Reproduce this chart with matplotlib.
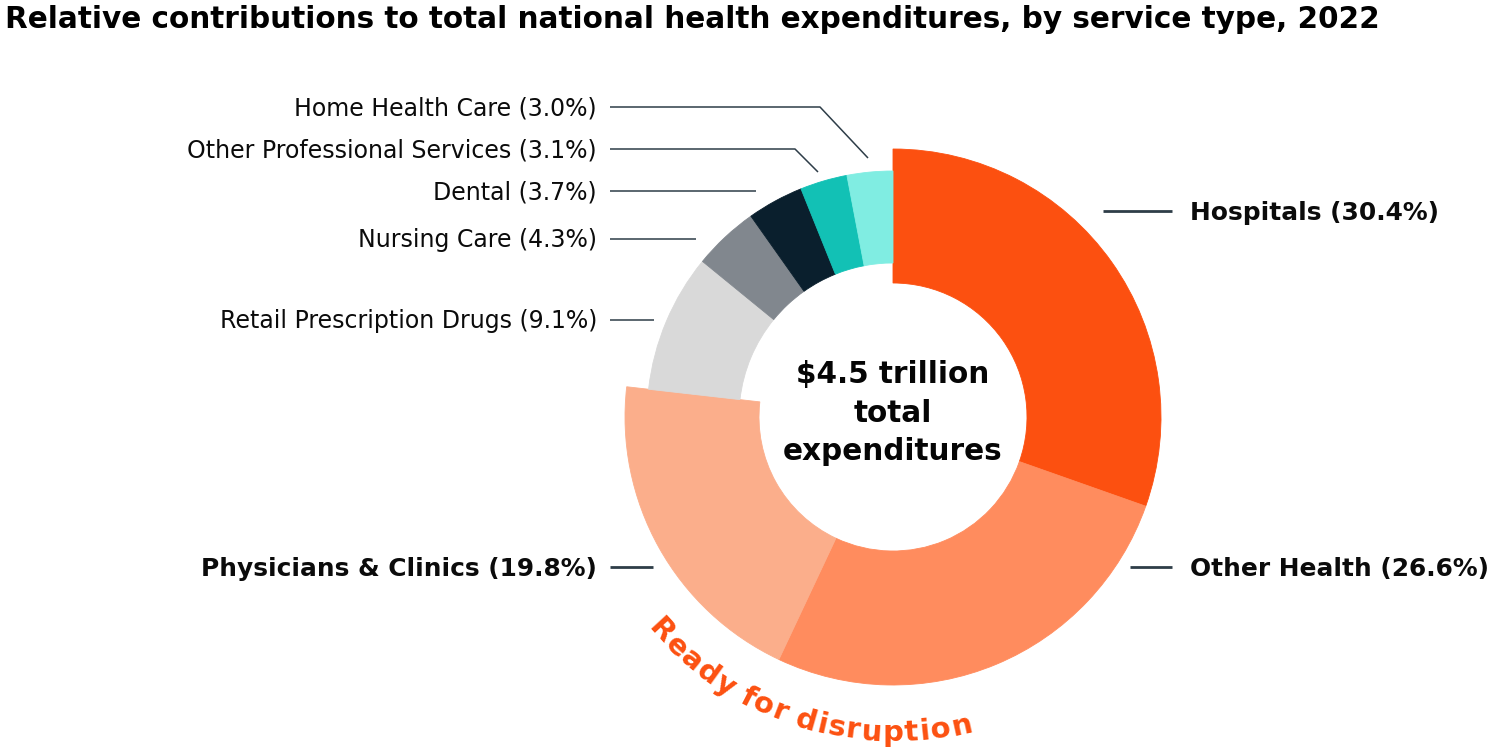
import numpy as np
import matplotlib
matplotlib.use("Agg")
import matplotlib.pyplot as plt
from matplotlib.textpath import text_to_path
from matplotlib.font_manager import FontProperties

# ---------------- data ----------------
categories = ["Hospitals", "Other Health", "Physicians & Clinics",
              "Retail Prescription Drugs", "Nursing Care", "Dental",
              "Other Professional Services", "Home Health Care"]
shares = [30.4, 26.6, 19.8, 9.1, 4.3, 3.7, 3.1, 3.0]
colors = ["#FC5010", "#FF8C5E", "#FBAE8B", "#D9D9D9",
          "#81878E", "#0A1F2D", "#12C1B5", "#80EDE2"]
major = [True, True, True, False, False, False, False, False]
title = "Relative contributions to total national health expenditures, by service type, 2022"
center_lines = ["$4.5 trillion", "total", "expenditures"]
arc_label = "Ready for disruption"

FAM = ["DejaVu Sans"]
W, H = 1503, 754
fig = plt.figure(figsize=(W / 100, H / 100), dpi=100)
ax = fig.add_axes([0, 0, 1, 1])

def Y(y_img):
    return H - y_img

def fit_size(s, weight, target_px, fam=FAM):
    fp = FontProperties(family=fam, weight=weight, size=20)
    w, h, d = text_to_path.get_text_width_height_descent(s, fp, ismath=False)
    return 20 * target_px / (w * 100 / 72)

cx, cy = 893, Y(417)
R_big, w_big = 268, 134
R_small, w_small = 246, 92

big_cols = [c if m else "none" for c, m in zip(colors, major)]
small_cols = [c if not m else "none" for c, m in zip(colors, major)]
for cols, R, wd in [(big_cols, R_big, w_big), (small_cols, R_small, w_small)]:
    wedges, _ = ax.pie(shares, colors=cols, radius=R, center=(cx, cy),
                       startangle=90, counterclock=False,
                       wedgeprops=dict(width=wd, linewidth=0.6))
    for wdg in wedges:
        wdg.set_edgecolor(wdg.get_facecolor())

ax.set_xlim(0, W)
ax.set_ylim(0, H)
ax.set_aspect("equal")
ax.axis("off")

# ---------------- title ----------------
title_fs = fit_size(title, "bold", 1378)
ax.text(5, Y(28), title, fontsize=title_fs, fontweight="bold", family=FAM,
        ha="left", va="baseline", color="#000000")

# ---------------- labels & leaders ----------------
line_col = "#2E3D48"
leaders = {
    "Home Health Care": [(610, 107), (820, 107), (868, 158)],
    "Other Professional Services": [(610, 149), (795, 149), (818, 172)],
    "Dental": [(610, 191), (756, 191)],
    "Nursing Care": [(610, 239), (696, 239)],
    "Retail Prescription Drugs": [(610, 320), (654, 320)],
    "Physicians & Clinics": [(610, 567), (653, 567)],
    "Hospitals": [(1103, 211), (1172, 211)],
    "Other Health": [(1130, 567), (1172, 567)],
}
small_fs = fit_size("Other Professional Services (3.1%)", "normal", 409)
big_fs = fit_size("Physicians & Clinics (19.8%)", "bold", 397)
for cat, sh, m in zip(categories, shares, major):
    pts = leaders[cat]
    xs = [p[0] for p in pts]
    ys = [Y(p[1]) for p in pts]
    ax.plot(xs, ys, color=line_col, lw=2.0 if m else 1.1, solid_capstyle="butt")
    txt = f"{cat} ({sh:.1f}%)"
    ly = ys[0]
    fs = big_fs if m else small_fs
    base = ly - 0.36 * fs * 100 / 72
    if xs[0] > cx:
        ax.text(1190, base, txt, fontsize=fs, fontweight="bold",
                family=FAM, ha="left", va="baseline", color="#0B0B0B")
    else:
        ax.text(597, base, txt, fontsize=fs,
                fontweight="bold" if m else "normal",
                family=FAM, ha="right", va="baseline", color="#0B0B0B")

# ---------------- center text ----------------
center_fs = fit_size("expenditures", "bold", 220)
for line, yimg in zip(center_lines, [374, 413, 452]):
    ax.text(cx, Y(yimg), line, fontsize=center_fs, fontweight="bold", family=FAM,
            ha="center", va="center", color="#050505")

# ---------------- curved label ----------------
arc_fs = 21
fp = FontProperties(family=FAM, weight="bold", size=arc_fs)
k = 100 / 72
def adv(ch):
    if ch == " ":
        return 0.3 * arc_fs * k
    w, h, d = text_to_path.get_text_width_height_descent(ch, fp, ismath=False)
    return w * k + 0.05 * arc_fs * k

advs = [adv(c) for c in arc_label]
total = sum(advs)
r_b = 324
mid = np.deg2rad(252.5)
t0 = mid - total / r_b / 2
cum = 0
for ch, a in zip(arc_label, advs):
    th = t0 + (cum + a / 2) / r_b
    cum += a
    if ch == " ":
        continue
    x = cx + r_b * np.cos(th)
    y = cy + r_b * np.sin(th)
    ax.text(x, y, ch, fontsize=arc_fs, fontweight="bold", family=FAM,
            rotation=np.rad2deg(th) + 90, rotation_mode="anchor",
            ha="center", va="baseline", color="#FC5010")

fig.savefig("out.png", dpi=100, facecolor="white")
